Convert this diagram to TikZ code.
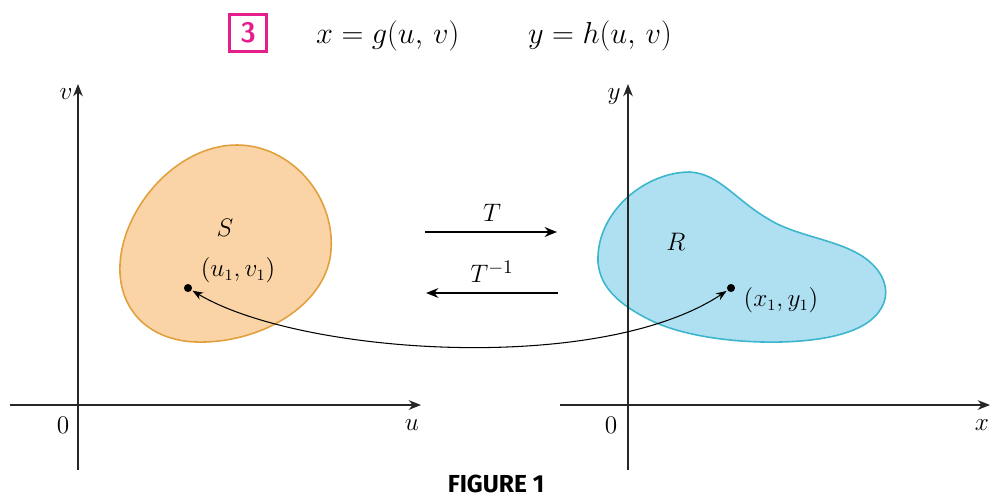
\documentclass[tikz,border=0pt]{standalone}
\usepackage{fontspec}
\usepackage{amsmath}
\usetikzlibrary{arrows.meta}
\newfontfamily\figfont{Fira Sans}

\definecolor{regionS}{RGB}{250,212,166}
\definecolor{edgeS}{RGB}{226,160,60}
\definecolor{regionR}{RGB}{174,224,242}
\definecolor{edgeR}{RGB}{60,182,205}
\definecolor{pinkbox}{RGB}{228,30,140}

\begin{document}
\begin{tikzpicture}[x=0.02cm, y=-0.02cm,
    axis/.style={-{Stealth[length=7pt,width=5.5pt]}, line width=0.7pt, black!85},
    maparrow/.style={-{Stealth[length=7pt,width=5.5pt]}, line width=1.2pt},
    lbl/.style={font=\fontsize{15}{17}\selectfont},
    ptlbl/.style={font=\fontsize{13.5}{15}\selectfont}]
  \useasboundingbox (0,0) rectangle (991,498);

  % Equation line
  \node[draw=pinkbox, line width=1.6pt, minimum size=21pt, inner sep=0pt,
        text=pinkbox, font=\sffamily\bfseries\fontsize{16}{18}\selectfont] (num) at (248,33) {3};
  \node[font=\fontsize{18}{20}\selectfont, anchor=west] (eqx) at (310,36) {$x = g(u,\,v)$};
  \node[font=\fontsize{18}{20}\selectfont, anchor=west] (eqy) at (522,36) {$y = h(u,\,v)$};

  % Region S (orange)
  \filldraw[fill=regionS, draw=edgeS, line width=0.9pt]
    (237,145) .. controls (290,145) and (335,195) .. (331,250)
              .. controls (328,300) and (270,340) .. (205,342)
              .. controls (150,344) and (118,310) .. (120,265)
              .. controls (122,210) and (175,145) .. (237,145) -- cycle;
  \node[lbl] (lS) at (225,228) {$S$};
  \node[ptlbl] (luv) at (238,270) {$(u_1, v_1)$};

  % Region R (blue)
  \filldraw[fill=regionR, draw=edgeR, line width=0.9pt]
    (598,262) .. controls (596,212) and (645,172) .. (690,172)
              .. controls (720,174) and (735,200) .. (770,220)
              .. controls (800,238) and (845,240) .. (870,262)
              .. controls (898,287) and (888,320) .. (845,333)
              .. controls (800,348) and (700,345) .. (650,320)
              .. controls (620,305) and (600,288) .. (598,262) -- cycle;
  \node[lbl] (lR) at (676,242) {$R$};
  \node[ptlbl] (lxy) at (781,300) {$(x_1, y_1)$};

  % Axes (u,v)
  \draw[axis] (10,405) -- (421,405);
  \draw[axis] (78,470) -- (78,84);
  \node[lbl] (lv) at (66,94) {$v$};
  \node[lbl] (lu) at (412,425) {$u$};
  \node[lbl] (o1) at (63,425) {$0$};

  % Axes (x,y)
  \draw[axis] (560,405) -- (990,405);
  \draw[axis] (628,470) -- (628,84);
  \node[lbl] (ly) at (614,97) {$y$};
  \node[lbl] (lx) at (982,425) {$x$};
  \node[lbl] (o2) at (611,425) {$0$};

  % Mapping arrows
  \coordinate (ta) at (425,232);
  \coordinate (tb) at (557,232);
  \coordinate (ia) at (558,293);
  \coordinate (ib) at (426,293);
  \draw[maparrow] (ta) -- (tb);
  \draw[maparrow] (ia) -- (ib);
  \node[lbl] (lT) at (492,213) {$T$};
  \node[lbl] (lTi) at (492,272) {$T^{-1}$};

  % Points and curved arrow
  \coordinate (pS) at (188,288);
  \coordinate (pR) at (731,288);
  \fill (pS) circle (2.3pt);
  \fill (pR) circle (2.3pt);
  \draw[{Stealth[length=6pt,width=4.5pt]}-{Stealth[length=6pt,width=4.5pt]},
        line width=0.6pt, shorten <=3pt, shorten >=3pt]
    (pS) .. controls (300,355) and (600,375) .. (pR);

  % Caption
  \node[font=\figfont\bfseries\fontsize{14}{16}\selectfont] (cap) at (496,484) {FIGURE 1};
\end{tikzpicture}
\end{document}
